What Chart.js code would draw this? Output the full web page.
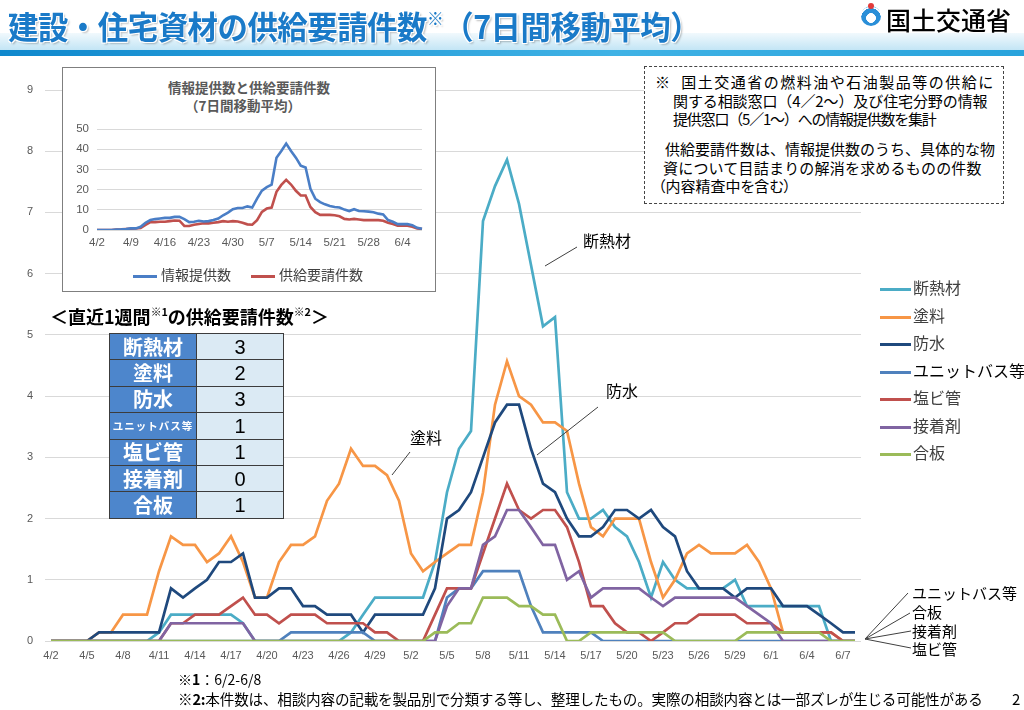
<!DOCTYPE html>
<html lang="ja">
<head>
<meta charset="utf-8">
<script src="https://cdn.jsdelivr.net/npm/chart.js@4.4.0/dist/chart.umd.min.js"></script>
<style>
html, body { margin: 0; padding: 0; background: #fff; }
body { width: 1024px; height: 710px; position: relative; overflow: hidden;
       font-family: "Noto Sans CJK JP", "Noto Sans", sans-serif; color: #000; }
.abs { position: absolute; }
#main { position: absolute; left: 0; top: 0; }
#title { left: 8px; top: 2px; font-size: 32px; font-weight: bold; color: #1a7ac8; white-space: nowrap;
         transform: scaleX(0.95); transform-origin: left top; letter-spacing: -0.5px;
         text-shadow: 1px 1px 0 #fff, -1px -1px 0 #fff, 1px -1px 0 #fff, -1px 1px 0 #fff, 2px 2px 2px rgba(0,0,0,0.25); z-index: 3; }
#title sup { font-size: 0.55em; vertical-align: 0.8em; }
#band1 { left: 0; top: 33px; width: 1024px; height: 17px; background: linear-gradient(to bottom, #f1f9fd, #c3e5f5); z-index: 1; }
#band2 { left: 0; top: 50px; width: 1024px; height: 6px; background: linear-gradient(to right, #0f88cd, #3fb2e5 60%, #28a3dc); z-index: 1; }
#logo { left: 861px; top: 6px; width: 20px; height: 20px; border-radius: 50%;
        background: radial-gradient(circle at 50% 60%, #fff 0 30%, #2a8fd8 32% 62%, #fff 64% 70%, #6ec3ef 72%); z-index: 3; }
#logodot { left: 868px; top: 3px; width: 6px; height: 6px; border-radius: 50%; background: #e23a3a; z-index: 4; }
#ministry { left: 886px; top: 1px; font-size: 25px; font-weight: 500; white-space: nowrap; z-index: 3; }
#inset { left: 62px; top: 67px; width: 374px; height: 225px; border: 1.5px solid #7f7f7f; background: #fff; z-index: 2; box-sizing: border-box; }
#insetCanvas { position: absolute; left: 1px; top: 0px; }
.insetTitle { position: absolute; width: 100%; text-align: center; font-size: 13.5px; font-weight: bold; color: #595959; }
#insetLegend { position: absolute; left: 70px; top: 196px; font-size: 14px; color: #404040; white-space: nowrap; }
#insetLegend span.sw { display: inline-block; width: 24px; height: 3px; vertical-align: middle; margin: 0 4px 0 0; }
#note { left: 644px; top: 66px; width: 360px; height: 138px; border: 1.3px dashed #444; background: #fff; z-index: 2;
        box-sizing: border-box; font-size: 15px; line-height: 18.5px; white-space: nowrap; }
#note div { position: absolute; }
#tblTitle { left: 50px; top: 303px; font-size: 18px; font-weight: bold; white-space: nowrap; z-index: 2; }
#tblTitle sup { font-size: 0.6em; vertical-align: 0.7em; }
#tbl { left: 109px; top: 333px; border-collapse: collapse; z-index: 2; }
#tbl td { border: 1px solid #3c3c3c; height: 25.4px; padding: 0; text-align: center; font-size: 20px; line-height: 24px; }
#tbl td.k { width: 86px; background: #4d86cc; color: #fff; font-weight: bold; }
#tbl td.v { width: 86px; background: #dbeaf4; color: #000; font-family: "Liberation Sans", sans-serif; }
#legend { left: 880px; top: 274px; z-index: 2; font-size: 16px; color: #404040; }
#legend div { height: 27.5px; line-height: 27.5px; white-space: nowrap; }
#legend span.sw { display: inline-block; width: 31px; height: 3px; vertical-align: middle; margin-right: 2px; }
.ann { position: absolute; font-size: 16px; white-space: nowrap; z-index: 2; line-height: 1; }
.annS { position: absolute; font-size: 15px; white-space: nowrap; z-index: 2; line-height: 1; }
#foot1 { left: 178px; top: 669px; font-size: 14px; white-space: nowrap; z-index: 2; }
#foot2 { left: 178px; top: 688px; font-size: 14.6px; white-space: nowrap; z-index: 2; letter-spacing: -0.2px; }
#page { left: 1012px; top: 688px; font-size: 15px; z-index: 2; }
</style>
</head>
<body>
<canvas id="main" width="1024" height="710"></canvas>

<div id="band1" class="abs"></div>
<div id="band2" class="abs"></div>
<div id="title" class="abs">建設・住宅資材の供給要請件数<sup>※</sup>（7日間移動平均）</div>
<div id="logo" class="abs"></div>
<div id="logodot" class="abs"></div>
<div id="ministry" class="abs">国土交通省</div>

<div id="inset" class="abs">
  <div class="insetTitle" style="top:9px;">情報提供数と供給要請件数</div>
  <div class="insetTitle" style="top:27px;left:-6px;">（7日間移動平均）</div>
  <canvas id="insetCanvas" width="370" height="222"></canvas>
  <div id="insetLegend"></div>
</div>

<div id="note" class="abs">
  <div style="left:10px;top:6px;letter-spacing:1.5px;">※&nbsp;&nbsp;国土交通省の燃料油や石油製品等の供給に</div>
  <div style="left:28px;top:25px;letter-spacing:-0.1px;">関する相談窓口（4／2～）及び住宅分野の情報</div>
  <div style="left:28px;top:43px;letter-spacing:-1.2px;">提供窓口（5／1～）への情報提供数を集計</div>
  <div style="left:20px;top:73px;letter-spacing:0px;">供給要請件数は、情報提供数のうち、具体的な物</div>
  <div style="left:18px;top:92px;letter-spacing:0.2px;">資について目詰まりの解消を求めるものの件数</div>
  <div style="left:13px;top:110px;font-feature-settings:'palt';">（内容精査中を含む）</div>
</div>

<div id="tblTitle" class="abs">＜直近1週間<sup>※1</sup>の供給要請件数<sup>※2</sup>＞</div>
<table id="tbl" class="abs"></table>

<div id="legend" class="abs"></div>

<div class="ann" style="left:583px;top:232px;">断熱材</div>
<div class="ann" style="left:606px;top:382px;">防水</div>
<div class="ann" style="left:410px;top:429px;">塗料</div>
<div class="annS" style="left:912px;top:585px;">ユニットバス等</div>
<div class="annS" style="left:912px;top:604px;">合板</div>
<div class="annS" style="left:912px;top:623px;">接着剤</div>
<div class="annS" style="left:912px;top:641px;">塩ビ管</div>

<div id="foot1" class="abs"><b>※1</b>：6/2-6/8</div>
<div id="foot2" class="abs"><b>※2:</b>本件数は、相談内容の記載を製品別で分類する等し、整理したもの。実際の相談内容とは一部ズレが生じる可能性がある</div>
<div id="page" class="abs">2</div>

<script>
// categories (4/2 - 6/8)
const dates = [
  "4/2","4/3","4/4","4/5","4/6","4/7","4/8","4/9","4/10","4/11","4/12","4/13","4/14","4/15",
  "4/16","4/17","4/18","4/19","4/20","4/21","4/22","4/23","4/24","4/25","4/26","4/27","4/28","4/29",
  "4/30","5/1","5/2","5/3","5/4","5/5","5/6","5/7","5/8","5/9","5/10","5/11","5/12","5/13",
  "5/14","5/15","5/16","5/17","5/18","5/19","5/20","5/21","5/22","5/23","5/24","5/25","5/26","5/27",
  "5/28","5/29","5/30","5/31","6/1","6/2","6/3","6/4","6/5","6/6","6/7","6/8"
];

// 7-day moving averages per material
const dannetsu = [0,0,0,0,0,0,0,0,0,0.14,0.43,0.43,0.43,0.43,0.43,0.43,0.29,0,0,0,0,0,0,0,0,0.14,0.43,0.71,
  0.71,0.71,0.71,0.71,1.29,2.43,3.14,3.43,6.86,7.43,7.86,7.14,6.14,5.14,5.29,2.43,2.0,2.0,2.14,1.86,1.71,1.29,
  0.71,1.29,1.0,0.86,0.86,0.86,0.86,1.0,0.57,0.57,0.57,0.57,0.57,0.57,0.57,0,0,0];
const toryo = [0,0,0,0,0.14,0.14,0.43,0.43,0.43,1.14,1.71,1.57,1.57,1.29,1.43,1.71,1.29,0.71,0.71,1.29,1.57,1.57,
  1.71,2.29,2.57,3.14,2.86,2.86,2.71,2.29,1.43,1.14,1.29,1.43,1.57,1.57,2.43,3.86,4.57,4.0,3.86,3.57,3.57,3.43,
  2.57,1.86,1.71,2.0,2.0,2.0,1.29,0.71,1.0,1.43,1.57,1.43,1.43,1.43,1.57,1.29,0.86,0.14,0.14,0.14,0.14,0.14,0,0];
const bosui = [0,0,0,0,0.14,0.14,0.14,0.14,0.14,0.14,0.86,0.71,0.86,1.0,1.29,1.29,1.43,0.71,0.71,0.86,0.86,0.57,
  0.57,0.43,0.43,0.43,0.14,0.43,0.43,0.43,0.43,0.43,0.86,2.0,2.14,2.43,3.0,3.57,3.86,3.86,3.14,2.57,2.43,2.0,
  1.71,1.71,1.86,2.14,2.14,2.0,2.14,1.86,1.71,1.14,0.86,0.86,0.86,0.71,0.86,0.86,0.86,0.57,0.57,0.57,0.43,0.29,0.14,0.14];
const unitBath = [0,0,0,0,0,0,0,0,0,0,0,0,0,0,0,0,0,0,0,0,0.14,0.14,0.14,0.14,0.14,0.14,0.14,0,
  0,0,0,0,0,0.71,0.86,0.86,1.14,1.14,1.14,1.14,0.57,0.14,0.14,0.14,0.14,0.14,0,0,0,0,
  0,0,0,0,0,0,0,0,0,0,0,0,0,0,0,0,0,0];
const enbi = [0,0,0,0,0,0,0,0,0,0,0.29,0.29,0.43,0.43,0.43,0.57,0.71,0.43,0.43,0.29,0.43,0.43,0.43,0.29,0.29,0.29,
  0.29,0.14,0.14,0,0,0,0.43,0.86,0.86,0.86,1.43,2.0,2.57,2.14,2.0,2.14,2.14,1.86,1.29,0.57,0.57,0.29,0.14,0.14,
  0,0.14,0.29,0.29,0.43,0.43,0.43,0.43,0.29,0.29,0.29,0.14,0.14,0.14,0.14,0.14,0,0];
const secchaku = [0,0,0,0,0,0,0,0,0,0,0.29,0.29,0.29,0.29,0.29,0.29,0.29,0,0,0,0,0,0,0,0,0,0,0,
  0,0,0,0,0,0.57,0.86,0.86,1.57,1.71,2.14,2.14,1.86,1.57,1.57,1.0,1.14,0.71,0.86,0.86,0.86,0.86,
  0.71,0.57,0.71,0.71,0.71,0.71,0.71,0.71,0.57,0.43,0.29,0,0,0,0,0,0,0];
const gohan = [0,0,0,0,0,0,0,0,0,0,0,0,0,0,0,0,0,0,0,0,0,0,0,0,0,0,0,0,
  0,0,0,0,0.14,0.14,0.29,0.29,0.71,0.71,0.71,0.57,0.57,0.43,0.43,0,0,0.14,0.14,0.14,0.14,0.14,
  0.14,0.14,0,0,0,0,0,0,0.14,0.14,0.14,0.14,0.14,0.14,0.14,0,0,0];

const seriesNames = ["断熱材", "塗料", "防水", "ユニットバス等", "塩ビ管", "接着剤", "合板"];
const seriesValues = [dannetsu, toryo, bosui, unitBath, enbi, secchaku, gohan];
const seriesColors = ["#4bacc6", "#f79646", "#1f497d", "#4f81bd", "#c0504d", "#8064a2", "#9bbb59"];
const yTicks = [0, 1, 2, 3, 4, 5, 6, 7, 8, 9];

// inset chart: totals (7-day moving average)
const infoCount = [0,0,0,0,0.2,0.3,0.5,0.8,0.8,1.6,3.6,4.9,5.4,5.7,6.0,6.0,6.5,6.5,5.4,3.9,4.1,4.6,4.2,4.4,4.9,5.7,
  7.3,8.6,10.3,10.9,10.9,11.7,11.1,15.5,19.5,21.2,22.5,35.8,39.1,42.8,39.1,35.8,31.8,30.9,20.4,15.5,13.8,12.7,11.9,
  11.4,11.1,10.1,9.4,10.3,9.4,9.3,9.1,8.8,8.1,7.7,4.9,4.1,2.9,2.9,2.9,2.4,1.1,0.6];
const requestCount = [0,0,0,0,0.2,0.3,0.5,0.7,0.8,1.0,2.5,3.9,3.9,4.1,4.1,4.4,4.7,4.6,2.0,2.0,2.6,3.0,3.3,3.3,3.6,
  3.9,4.4,4.1,4.4,4.2,3.6,2.8,2.6,4.9,9.0,10.6,11.1,18.9,22.3,24.8,22.5,19.4,17.1,17.1,11.4,8.8,7.5,7.5,7.5,7.3,
  6.8,5.5,5.2,5.5,5.2,4.9,4.9,4.9,4.9,4.6,3.6,3.0,2.1,2.1,2.1,1.6,0.8,0.5];
const insetNames = ["情報提供数", "供給要請件数"];
const insetColors = ["#4a7ec6", "#c0504d"];

// last week's request counts (table)
const weekCounts = [3, 2, 3, 1, 1, 0, 1];

// table
const tbl = document.getElementById('tbl');
seriesNames.forEach((name, i) => {
  const tr = document.createElement('tr');
  const small = name.length > 4 ? ' style="font-size:10.5px;letter-spacing:1px;"' : '';
  tr.innerHTML = `<td class="k"${small}>${name}</td><td class="v">${weekCounts[i]}</td>`;
  tbl.appendChild(tr);
});

// legends
document.getElementById('legend').innerHTML = seriesNames.map((n, i) =>
  `<div${i === 3 ? ' style="color:#000"' : ''}><span class="sw" style="background:${seriesColors[i]}"></span>${n}</div>`).join('');
document.getElementById('insetLegend').innerHTML = insetNames.map((n, i) =>
  `<span class="sw" style="background:${insetColors[i]};${i ? 'margin-left:20px;' : ''}"></span>${n}`).join('');

// leader lines for the labels
const callouts = [
  [[545, 266], [577, 247]],
  [[537, 455], [598, 407]],
  [[392, 475], [410, 452]],
  [[865, 639], [908, 593]],
  [[865, 639], [910, 613]],
  [[865, 639], [911, 631]],
  [[865, 639], [911, 648]]
];
const calloutPlugin = {
  id: 'callouts',
  afterDraw(chart) {
    const ctx = chart.ctx;
    ctx.save();
    ctx.strokeStyle = '#404040';
    ctx.lineWidth = 1;
    callouts.forEach(([a, b]) => {
      ctx.beginPath();
      ctx.moveTo(a[0], a[1]);
      ctx.lineTo(b[0], b[1]);
      ctx.stroke();
    });
    ctx.restore();
  }
};

const tickFont = { family: "'Liberation Sans', Arial, sans-serif", size: 11 };

new Chart(document.getElementById('main'), {
  type: 'line',
  data: {
    labels: dates,
    datasets: seriesNames.map((name, i) => ({
      label: name,
      data: seriesValues[i],
      borderColor: seriesColors[i],
      backgroundColor: seriesColors[i],
      borderWidth: 2.7,
      pointRadius: 0,
      tension: 0,
      fill: false,
      order: seriesNames.length - 1 - i
    }))
  },
  options: {
    responsive: false,
    animation: false,
    devicePixelRatio: 1,
    layout: { padding: { left: 0, right: 163, top: 90, bottom: 39 } },
    plugins: { legend: { display: false }, tooltip: { enabled: false } },
    scales: {
      x: {
        offset: true,
        grid: { display: false, drawTicks: false },
        border: { display: false },
        ticks: {
          autoSkip: false, maxRotation: 0, padding: 8, color: '#595959', font: tickFont,
          callback: (v, i) => (i % 3 === 0 ? dates[i] : '')
        },
        afterFit: s => { s.height = 30; }
      },
      y: {
        min: yTicks[0],
        max: yTicks[yTicks.length - 1],
        grid: { color: '#d9d9d9', drawTicks: false },
        border: { display: false },
        ticks: { stepSize: 1, padding: 12, color: '#595959', font: tickFont },
        afterFit: s => { s.width = 45; }
      }
    }
  },
  plugins: [calloutPlugin]
});

new Chart(document.getElementById('insetCanvas'), {
  type: 'line',
  data: {
    labels: dates,
    datasets: [infoCount, requestCount].map((vals, i) => ({
      label: insetNames[i],
      data: vals,
      borderColor: insetColors[i],
      borderWidth: 2.6,
      pointRadius: 0,
      tension: 0,
      fill: false
    }))
  },
  options: {
    responsive: false,
    animation: false,
    devicePixelRatio: 1,
    layout: { padding: { left: 0, right: 12, top: 61, bottom: 40 } },
    plugins: { legend: { display: false }, tooltip: { enabled: false } },
    scales: {
      x: {
        offset: false,
        grid: { display: false, drawTicks: false },
        border: { display: false },
        ticks: {
          autoSkip: false, maxRotation: 0, padding: 6, color: '#595959', font: { family: tickFont.family, size: 11.5 },
          callback: (v, i) => (i % 7 === 0 ? dates[i] : '')
        },
        afterFit: s => { s.height = 20; }
      },
      y: {
        min: 0, max: 50,
        grid: { color: '#d9d9d9', drawTicks: false },
        border: { display: false },
        ticks: { stepSize: 10, padding: 8, color: '#595959', font: { family: tickFont.family, size: 11.5 } },
        afterFit: s => { s.width = 33; }
      }
    }
  }
});
</script>
</body>
</html>
